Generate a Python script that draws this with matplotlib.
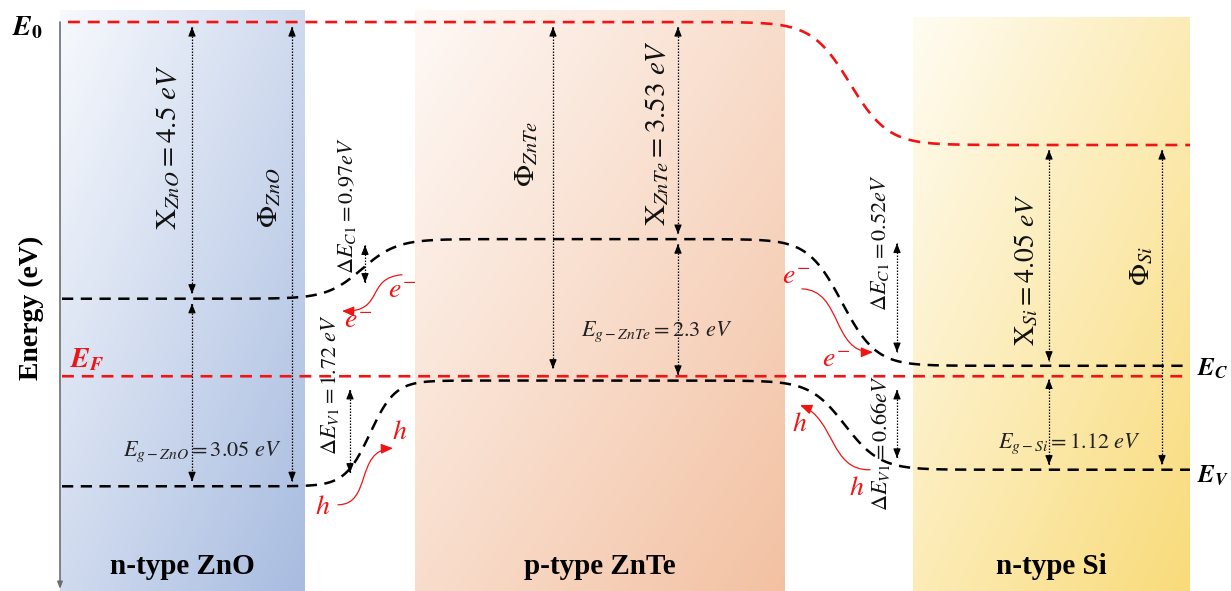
import numpy as np
import matplotlib
matplotlib.use('Agg')
import matplotlib.pyplot as plt
from matplotlib.path import Path
from matplotlib.patches import FancyArrowPatch

plt.rcParams['mathtext.fontset'] = 'stix'
plt.rcParams['font.family'] = ['Liberation Serif', 'DejaVu Serif']

# band levels in eV, measured down from the ZnO vacuum level E0 (schematic)
materials = ['n-type ZnO', 'p-type ZnTe', 'n-type Si']
vacuum = [0.0, 0.0, -2.0]
cond_band = [-4.5, -3.53, -5.59]
val_band = [-7.55, -5.83, -7.28]
fermi = -5.76

affinity_labels = [r'$\mathrm{X}_{ZnO}=\mathit{4.5\ eV}$',
                   r'$\mathrm{X}_{ZnTe}=\mathit{3.53\ eV}$',
                   r'$\mathrm{X}_{Si}=\mathit{4.05\ eV}$']
gap_labels = [r'$E_{g-ZnO}=\mathit{3.05\ eV}$',
              r'$E_{g-ZnTe}=\mathit{2.3\ eV}$',
              r'$E_{g-Si}=\mathit{1.12\ eV}$']
work_labels = [r'$\Phi_{ZnO}$', r'$\Phi_{ZnTe}$', r'$\Phi_{Si}$']
offset_labels = [r'$\Delta E_{C1}=\mathit{0.97eV}$', r'$\Delta E_{V1}=\mathit{1.72\ eV}$',
                 r'$\Delta E_{C1}=\mathit{0.52eV}$', r'$\Delta E_{V1}=\mathit{0.66eV}$']

# layout (horizontal positions in figure pixels)
panels = [(60, 305), (415, 785), (913, 1190)]
panel_tops = [0.195, 0.195, 0.08]
panel_colors = [((247, 249, 253), (168, 188, 224)),
                ((254, 249, 246), (243, 193, 162)),
                ((255, 252, 242), (249, 219, 122))]
RED = '#f01414'


def band(x, left, mid, right, x1, w1, x2, w2):
    s1 = (1 + np.tanh((x - x1) / w1)) / 2
    s2 = (1 + np.tanh((x - x2) / w2)) / 2
    return left + (mid - left) * s1 + (right - mid) * s2


def dim_arrow(ax, x, y0, y1):
    ax.plot([x, x], [y0, y1], color='k', lw=0.9, ls=(0, (1.2, 1.2)), zorder=3)
    for a, b in ((y0, y1), (y1, y0)):
        ax.annotate('', xy=(x, a), xytext=(x, a + 0.02 * np.sign(b - a)),
                    arrowprops=dict(arrowstyle='-|>,head_length=0.55,head_width=0.22',
                                    color='k', lw=0.8, shrinkA=0, shrinkB=0),
                    zorder=3)


def carrier_arrow(ax, pts):
    path = Path(pts, [Path.MOVETO, Path.CURVE4, Path.CURVE4, Path.CURVE4])
    ax.add_patch(FancyArrowPatch(path=path, arrowstyle='-|>,head_length=0.6,head_width=0.25',
                                 color=RED, lw=0.9, mutation_scale=12, zorder=4))


fig = plt.figure(figsize=(12.31, 5.91), dpi=100)
ax = fig.add_axes([0, 0, 1, 1])
y_top, y_bot = 22 / 61.5, -(591 - 22) / 61.5
ax.axis('off')

# gradient panels
for (x0, x1), top, (c0, c1) in zip(panels, panel_tops, panel_colors):
    u = np.linspace(0, 1, 200)[None, :]
    v = np.linspace(0, 1, 200)[:, None]
    t = (0.5 * u + 0.5 * v)[..., None]
    img = (np.array(c0) + (np.array(c1) - np.array(c0)) * t) / 255
    ax.imshow(img, extent=[x0, x1, y_bot, top], aspect='auto', origin='upper', zorder=0)
ax.set_xlim(0, 1231)
ax.set_ylim(y_bot, y_top)

# energy axis
ax.annotate('', xy=(60, y_bot + 0.03), xytext=(60, 0.0),
            arrowprops=dict(arrowstyle='-|>,head_length=0.4,head_width=0.15',
                            color='#6e6e6e', lw=1.2, shrinkA=0, shrinkB=0))

# band lines
x = np.linspace(62, 1190, 1500)
xv = np.linspace(68, 1190, 1500)
ax.plot(xv, band(xv, vacuum[0], vacuum[1], vacuum[2], 300, 10, 850, 38),
        color=RED, lw=1.9, dashes=(4.5, 3), zorder=2)
ax.plot(x, np.full_like(x, fermi), color=RED, lw=1.9, dashes=(4.5, 3), zorder=2)
ax.plot(x, band(x, cond_band[0], cond_band[1], cond_band[2], 362, 35, 842, 34),
        color='k', lw=1.8, dashes=(4.5, 3), zorder=2)
ax.plot(x, band(x, val_band[0], val_band[1], val_band[2], 370, 25, 845, 35),
        color='k', lw=1.8, dashes=(4.5, 3), zorder=2)

g = 0.08
# ZnO
dim_arrow(ax, 192, vacuum[0] - g, cond_band[0] + g)
dim_arrow(ax, 192, cond_band[0] - g, val_band[0] + g)
dim_arrow(ax, 292, vacuum[0] - g, val_band[0] + g)
# ZnTe
dim_arrow(ax, 553, vacuum[1] - g, fermi + 0.12)
dim_arrow(ax, 678, vacuum[1] - g, cond_band[1] + g)
dim_arrow(ax, 678, cond_band[1] - g, fermi + 0.02)
# Si
dim_arrow(ax, 1049, vacuum[2] - g, cond_band[2] + g)
dim_arrow(ax, 1049, fermi - 0.05, val_band[2] + g)
dim_arrow(ax, 1162, vacuum[2] - g, val_band[2] + g)
# band offsets
dim_arrow(ax, 365, -3.63, -4.24)
dim_arrow(ax, 350, -5.98, -7.33)
dim_arrow(ax, 897, -3.60, -5.37)
dim_arrow(ax, 897, -5.98, -7.09)

# text
lab = dict(rotation=90, ha='center', va='center', color='#111111')
ax.text(168, -2.03, affinity_labels[0], fontsize=21, **lab)
ax.text(657, -1.80, affinity_labels[1], fontsize=21, **lab)
ax.text(1027, -4.03, affinity_labels[2], fontsize=20, **lab)
ax.text(270, -2.86, work_labels[0], fontsize=21, **lab)
ax.text(527, -2.15, work_labels[1], fontsize=21, **lab)
ax.text(1142, -3.97, work_labels[2], fontsize=21, **lab)
ax.text(347, -2.99, offset_labels[0], fontsize=16, **lab)
ax.text(330, -5.90, offset_labels[1], fontsize=16, **lab)
ax.text(880, -3.59, offset_labels[2], fontsize=16, **lab)
ax.text(880, -6.85, offset_labels[3], fontsize=16, **lab)
ax.text(202, -6.99, gap_labels[0], fontsize=16, ha='center', va='center', color='#222222')
ax.text(657, -5.04, gap_labels[1], fontsize=16, ha='center', va='center', color='#222222')
ax.text(1069, -6.85, gap_labels[2], fontsize=16, ha='center', va='center', color='#222222')

ax.text(12, -0.10, r'$\mathbfit{E}_{\mathbf{0}}$', fontsize=20, ha='left', va='center')
ax.text(70, -5.50, r'$\mathbfit{E}_{\mathbfit{F}}$', fontsize=20, ha='left', va='center', color=RED)
ax.text(1197, -5.64, r'$\mathbfit{E}_{\mathbfit{C}}$', fontsize=18, ha='left', va='center')
ax.text(1197, -7.38, r'$\mathbfit{E}_{\mathbfit{V}}$', fontsize=18, ha='left', va='center')
ax.text(31, -4.65, 'Energy (eV)', fontsize=20, fontweight='bold', rotation=90,
        ha='center', va='center')

for (x0, x1), name in zip(panels, materials):
    ax.text((x0 + x1) / 2, -8.86, name, fontsize=21, fontweight='bold',
            ha='center', va='center')

# carriers
carrier_arrow(ax, [(402, -4.11), (365, -4.16), (385, -4.72), (342, -4.70)])
carrier_arrow(ax, [(338, -7.85), (372, -7.85), (355, -6.96), (393, -6.93)])
carrier_arrow(ax, [(802, -4.34), (842, -4.36), (832, -5.37), (873, -5.37)])
carrier_arrow(ax, [(870, -7.28), (830, -7.30), (835, -6.45), (800, -6.23)])
car = dict(fontsize=20, color=RED, ha='center', va='center')
ax.text(402, -4.39, r'$e^{-}$', **car)
ax.text(358, -4.87, r'$e^{-}$', **car)
ax.text(400, -6.67, r'$h$', **car)
ax.text(323, -7.89, r'$h$', **car)
ax.text(796, -4.15, r'$e^{-}$', **car)
ax.text(836, -5.50, r'$e^{-}$', **car)
ax.text(800, -6.55, r'$h$', **car)
ax.text(857, -7.58, r'$h$', **car)

fig.savefig('out.png', dpi=100)
